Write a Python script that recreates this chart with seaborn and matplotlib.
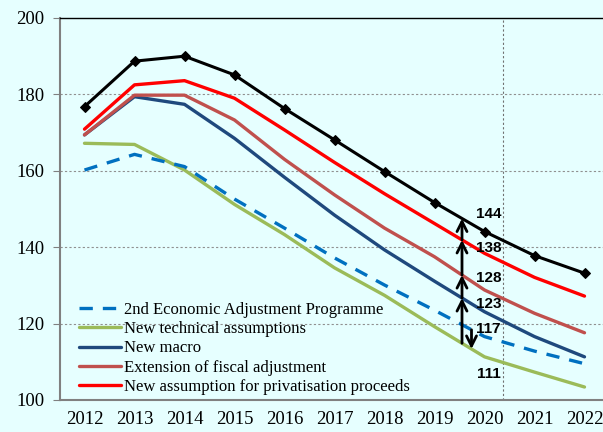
import numpy as np
import pandas as pd
import seaborn as sns
import matplotlib.pyplot as plt

# Debt ratio paths (% of GDP)
years = list(range(2012, 2023))
programme = [160.2, 164.3, 161.1, 152.6, 145.0, 137.2, 130.1, 123.5, 116.6, 112.8, 109.5]
technical = [167.2, 166.9, 160.2, 151.2, 143.3, 134.6, 127.4, 119.2, 111.3, 107.3, 103.4]
macro = [169.4, 179.4, 177.4, 168.5, 158.3, 148.4, 139.3, 131.1, 123.1, 116.6, 111.3]
fiscal = [169.4, 179.8, 179.8, 173.3, 163.0, 153.7, 145.0, 137.5, 128.8, 122.7, 117.6]
privatisation = [170.9, 182.5, 183.6, 179.0, 170.7, 162.2, 154.0, 146.2, 138.4, 132.1, 127.2]
no_measures = [176.8, 188.7, 190.0, 185.1, 176.3, 168.1, 159.8, 151.7, 144.1, 137.8, 133.2]

labels_2020 = [144, 138, 128, 123, 117, 111]
label_offsets = [4.6, 1.7, 3.9, 2.2, 1.7, -4.3]

sns.set_style('white')
plt.rcParams['font.family'] = ['Liberation Serif', 'DejaVu Serif']
plt.rcParams['text.color'] = 'black'
plt.rcParams['xtick.labelcolor'] = 'black'
plt.rcParams['ytick.labelcolor'] = 'black'

bg = '#E6FFFF'
fig = plt.figure(figsize=(6.03, 4.32), dpi=100, facecolor=bg)
ax = fig.add_axes([59.5 / 603, 32 / 432, 550 / 603, 382 / 432])
ax.set_facecolor(bg)

series = [
    ('New technical assumptions', technical, '#9BBB59', '-'),
    ('2nd Economic Adjustment Programme', programme, '#0070C0', '--'),
    ('New macro', macro, '#1F497D', '-'),
    ('Extension of fiscal adjustment', fiscal, '#C0504D', '-'),
    ('New assumption for privatisation proceeds', privatisation, '#FF0000', '-'),
]
for name, vals, col, ls in series:
    df = pd.DataFrame({'year': years, 'debt': vals})
    sns.lineplot(data=df, x='year', y='debt', ax=ax, color=col, lw=2.4,
                 linestyle=ls, label=name)
    if ls == '--':
        ax.lines[-1].set_dashes((4, 3))

df = pd.DataFrame({'year': years, 'debt': no_measures})
sns.lineplot(data=df, x='year', y='debt', ax=ax, color='black', lw=2.2,
             marker='D', markersize=5.5, markeredgecolor='black', legend=False)

ax.set_xlim(2011.5, 2022.5)
ax.set_ylim(100, 200)
ax.set_xlabel('')
ax.set_ylabel('')

ax.set_yticks(range(100, 201, 20))
ax.set_xticks(years)
ax.set_xticks(np.arange(2011.5, 2023, 1), minor=True)
ax.tick_params(axis='x', which='major', length=0, labelsize=13.5, pad=8)
ax.tick_params(axis='x', which='minor', length=5, color='#808080', width=1)
ax.tick_params(axis='y', length=5, color='#808080', labelsize=13.5, pad=6, left=True)
for y in range(120, 200, 20):
    ax.axhline(y, color='#909090', lw=0.8, ls=(0, (2, 2)), zorder=0)
ax.axvline(2020.37, color='#707070', lw=0.8, ls=(0, (2, 2)), zorder=0)

for side in ['left', 'bottom']:
    ax.spines[side].set_color('#808080')
    ax.spines[side].set_linewidth(1.5)
ax.spines['top'].set_color('black')
ax.spines['top'].set_linewidth(1)
ax.spines['right'].set_visible(False)

# arrows showing the step between scenarios
xa = 2019.55
steps = [technical, macro, fiscal, privatisation, no_measures]
for low, high in zip(steps[:-1], steps[1:]):
    y0 = np.interp(xa, years, low)
    y1 = np.interp(xa, years, high)
    ax.annotate('', xy=(xa, y1), xytext=(xa, y0),
                arrowprops=dict(arrowstyle='->', lw=2, color='black',
                                mutation_scale=18, shrinkA=0, shrinkB=0))
xd = 2019.74
ax.annotate('', xy=(xd, np.interp(xd, years, technical)),
            xytext=(xd, np.interp(xd, years, programme)),
            arrowprops=dict(arrowstyle='->', lw=2, color='black',
                            mutation_scale=18, shrinkA=0, shrinkB=0))

for val, off in zip(labels_2020, label_offsets):
    ax.text(2020.08, val + off, str(val), ha='center', va='center',
            fontsize=11, fontweight='bold', color='black',
            family=['Liberation Sans', 'DejaVu Sans'])

handles, names = ax.get_legend_handles_labels()
order = [1, 0, 2, 3, 4]
leg = ax.legend([handles[i] for i in order], [names[i] for i in order],
                loc='lower left', bbox_to_anchor=(79 / 603, 37 / 432),
                bbox_transform=fig.transFigure, frameon=False, fontsize=12,
                handlelength=2.5, handletextpad=0.2, labelspacing=0.2,
                borderpad=0, borderaxespad=0, labelcolor='black')

fig.savefig('out.png', dpi=100, facecolor=bg)
